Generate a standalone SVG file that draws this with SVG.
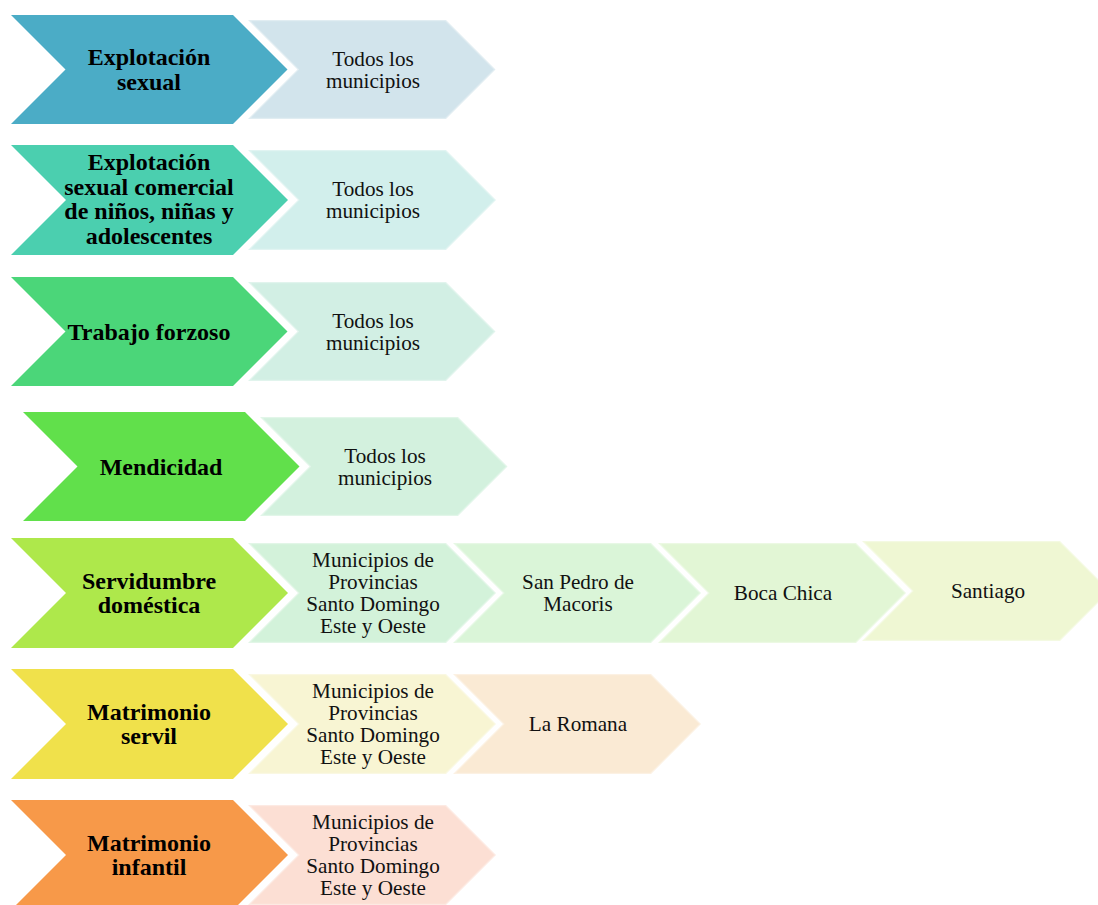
<svg xmlns="http://www.w3.org/2000/svg" width="1098" height="905" viewBox="0 0 1098 905">
<style>
.main{font-family:"Liberation Serif","Times New Roman",serif;font-weight:bold;font-size:24px;fill:#000;text-anchor:middle}
.sub{font-family:"Liberation Serif","Times New Roman",serif;font-size:21.2px;fill:#111;text-anchor:middle}
.sec{stroke:#ffffff;stroke-opacity:0.35;stroke-width:2.5;stroke-linejoin:miter}
</style>
<rect width="1098" height="905" fill="#ffffff"/>
<g id="row1-main"><polygon points="11,15 233,15 287.5,69.5 233,124 11,124 65.5,69.5" fill="#4BACC6"/><text class="main" x="149" y="65">Explotación</text><text class="main" x="149" y="89.5">sexual</text></g>
<g id="row1-sec1"><polygon class="sec" points="248,20 446,20 495.5,69.5 446,119 248,119 297.5,69.5" fill="#D2E4EC"/><text class="sub" x="373" y="65.5">Todos los</text><text class="sub" x="373" y="87.5">municipios</text></g>

<g id="row2-main"><polygon points="11,145 233,145 288,200 233,255 11,255 66,200" fill="#4BCFAF"/><text class="main" x="149" y="170">Explotación</text><text class="main" x="149" y="194.7">sexual comercial</text><text class="main" x="149" y="219.4">de niños, niñas y</text><text class="main" x="149" y="244">adolescentes</text></g>
<g id="row2-sec1"><polygon class="sec" points="248,150 446,150 496,200 446,250 248,250 298,200" fill="#D2EFEC"/><text class="sub" x="373" y="196">Todos los</text><text class="sub" x="373" y="218">municipios</text></g>

<g id="row3-main"><polygon points="11,277 233,277 287.5,331.5 233,386 11,386 65.5,331.5" fill="#4BD679"/><text class="main" x="149" y="339.5">Trabajo forzoso</text></g>
<g id="row3-sec1"><polygon class="sec" points="248,282 446,282 495.5,331.5 446,381 248,381 297.5,331.5" fill="#D2EFE4"/><text class="sub" x="373" y="327.5">Todos los</text><text class="sub" x="373" y="349.5">municipios</text></g>

<g id="row4-main"><polygon points="23,412 245,412 299.5,466.5 245,521 23,521 77.5,466.5" fill="#61E04B"/><text class="main" x="161" y="474.5">Mendicidad</text></g>
<g id="row4-sec1"><polygon class="sec" points="260,417 458,417 507.5,466.5 458,516 260,516 309.5,466.5" fill="#D3F1DE"/><text class="sub" x="385" y="462.5">Todos los</text><text class="sub" x="385" y="484.5">municipios</text></g>

<g id="row5-main"><polygon points="11,538 233,538 288,593 233,648 11,648 66,593" fill="#AEE84B"/><text class="main" x="149" y="588.5">Servidumbre</text><text class="main" x="149" y="613">doméstica</text></g>
<g id="row5-sec1"><polygon class="sec" points="248,543 446,543 496,593 446,643 248,643 298,593" fill="#D3F2DA"/><text class="sub" x="373" y="567">Municipios de</text><text class="sub" x="373" y="589">Provincias</text><text class="sub" x="373" y="611">Santo Domingo</text><text class="sub" x="373" y="633">Este y Oeste</text></g>
<g id="row5-sec2"><polygon class="sec" points="453,543 651,543 701,593 651,643 453,643 503,593" fill="#DAF5D8"/><text class="sub" x="578" y="589">San Pedro de</text><text class="sub" x="578" y="611">Macoris</text></g>
<g id="row5-sec3"><polygon class="sec" points="658,543 856,543 906,593 856,643 658,643 708,593" fill="#E2F6D5"/><text class="sub" x="783" y="600">Boca Chica</text></g>
<g id="row5-sec4"><polygon class="sec" points="862,541 1060,541 1110,591 1060,641 862,641 912,591" fill="#EFF7D3"/><text class="sub" x="988" y="598">Santiago</text></g>

<g id="row6-main"><polygon points="11,669 233,669 288,724 233,779 11,779 66,724" fill="#F0E14B"/><text class="main" x="149" y="719.5">Matrimonio</text><text class="main" x="149" y="744">servil</text></g>
<g id="row6-sec1"><polygon class="sec" points="248,674 446,674 496,724 446,774 248,774 298,724" fill="#F8F5D3"/><text class="sub" x="373" y="698">Municipios de</text><text class="sub" x="373" y="720">Provincias</text><text class="sub" x="373" y="742">Santo Domingo</text><text class="sub" x="373" y="764">Este y Oeste</text></g>
<g id="row6-sec2"><polygon class="sec" points="453,674 651,674 701,724 651,774 453,774 503,724" fill="#FAEAD4"/><text class="sub" x="578" y="731">La Romana</text></g>

<g id="row7-main"><polygon points="11,800 233,800 288,855 233,910 11,910 66,855" fill="#F79949"/><text class="main" x="149" y="850.5">Matrimonio</text><text class="main" x="149" y="875">infantil</text></g>
<g id="row7-sec1"><polygon class="sec" points="248,805 446,805 496,855 446,905 248,905 298,855" fill="#FCDFD4"/><text class="sub" x="373" y="829">Municipios de</text><text class="sub" x="373" y="851">Provincias</text><text class="sub" x="373" y="873">Santo Domingo</text><text class="sub" x="373" y="895">Este y Oeste</text></g>
</svg>
